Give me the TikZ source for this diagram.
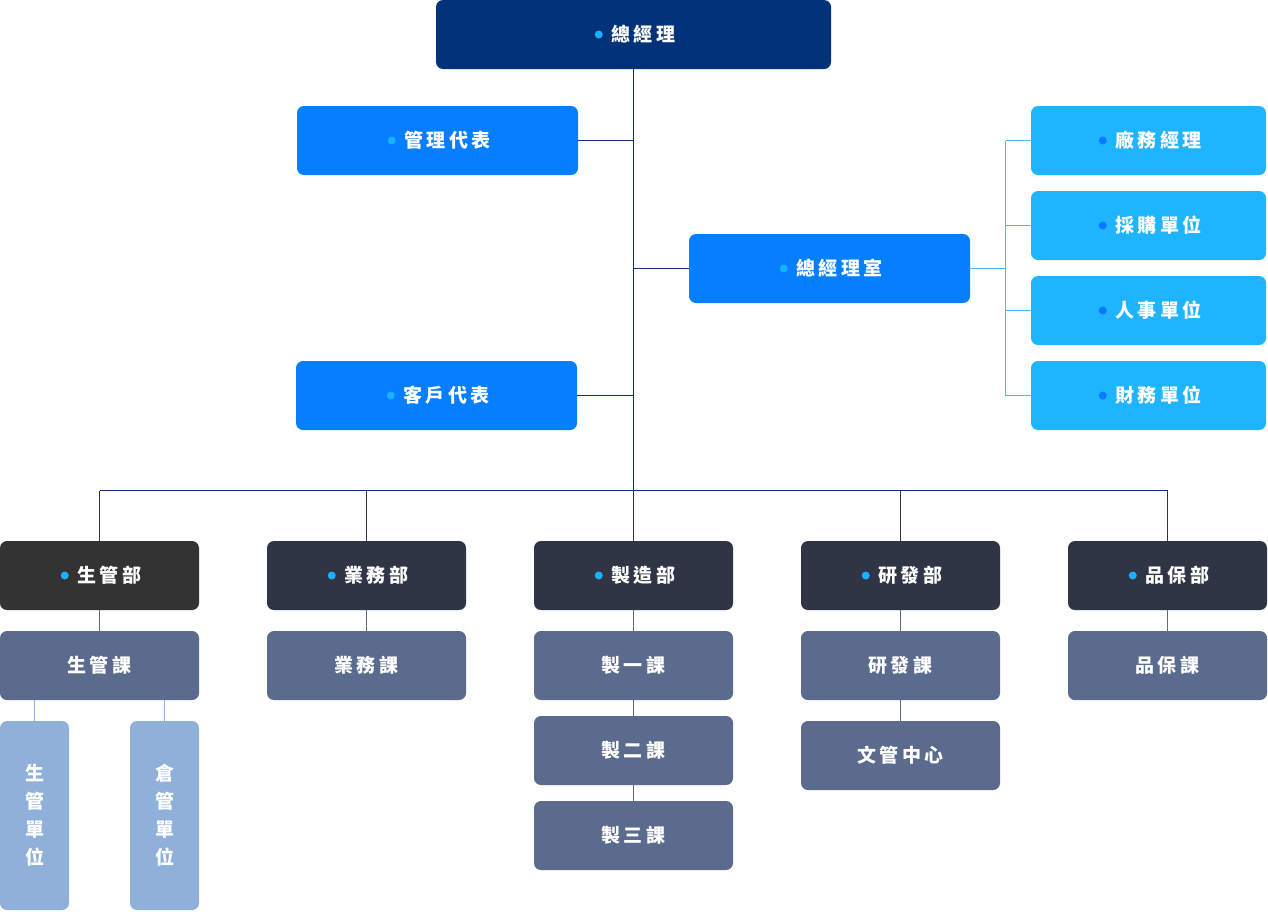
\documentclass[tikz,border=0pt]{standalone}
\usepackage{fontspec}
\newfontfamily\cjk{Noto Sans CJK TC}[LetterSpace=16]
\newfontfamily\cjkv{Noto Sans CJK TC}
\definecolor{navy}{HTML}{02327A}
\definecolor{midblue}{HTML}{057EFF}
\definecolor{skyblue}{HTML}{1FB4FF}
\definecolor{bulletlight}{HTML}{1AB0FF}
\definecolor{bulletdark}{HTML}{0A78FF}
\definecolor{deptgray}{HTML}{2F3544}
\definecolor{deptfirst}{HTML}{333333}
\definecolor{sectgray}{HTML}{5A6B8D}
\definecolor{unitblue}{HTML}{8FB0D8}
\definecolor{linenavy}{HTML}{0D3270}
\definecolor{linesky}{HTML}{4AB8F0}
\tikzset{
  boxbase/.style={rectangle, rounded corners=7pt, inner sep=0pt, minimum height=69pt, text=white},
  topbox/.style={boxbase, fill=navy, minimum width=395pt},
  midbox/.style={boxbase, fill=midblue, minimum width=281pt},
  rightbox/.style={boxbase, fill=skyblue, minimum width=235pt},
  deptbox/.style={boxbase, fill=deptgray, minimum width=199pt},
  sectbox/.style={boxbase, fill=sectgray, minimum width=199pt, font=\cjk\bfseries\fontsize{19}{22}\selectfont},
  unitbox/.style={boxbase, fill=unitblue, minimum width=69pt, minimum height=189pt, align=center, font=\cjkv\bfseries\fontsize{19}{28}\selectfont},
  txt/.style={inner sep=0pt, text=white, font=\cjk\bfseries\fontsize{19}{22}\selectfont},
  navyline/.style={draw=linenavy, line width=1pt},
  skyline/.style={draw=linesky, line width=1pt},
  deptline/.style={draw=deptgray, line width=1pt},
  sectline/.style={draw=sectgray, line width=1pt},
  unitline/.style={draw=unitblue, line width=1pt},
}
% #1 style, #2 name, #3 x, #4 y, #5 text, #6 bullet colour
\newcommand\OrgBox[6]{%
  \node[#1] (#2) at (#3,#4) {};
  \node[txt] (#2t) at ([xshift=10pt]#2.center) {#5};
  \fill[#6] ([xshift=-13pt]#2t.west) circle (4pt);
}
\begin{document}
\begin{tikzpicture}[x=1pt,y=-1pt]
\useasboundingbox (0,0) rectangle (1268,911);
% top
\OrgBox{topbox}{gm}{633.5}{34.5}{總經理}{bulletlight}
\OrgBox{midbox}{mr}{437.5}{140.5}{管理代表}{bulletlight}
\OrgBox{midbox}{gmo}{829.5}{268.5}{總經理室}{bulletlight}
\OrgBox{midbox}{cr}{436.5}{395.5}{客戶代表}{bulletlight}
\OrgBox{rightbox}{ra}{1148.5}{140.5}{廠務經理}{bulletdark}
\OrgBox{rightbox}{rb}{1148.5}{225.5}{採購單位}{bulletdark}
\OrgBox{rightbox}{rc}{1148.5}{310.5}{人事單位}{bulletdark}
\OrgBox{rightbox}{rd}{1148.5}{395.5}{財務單位}{bulletdark}
% departments
\OrgBox{deptbox,fill=deptfirst}{da}{99.5}{575.5}{生管部}{bulletlight}
\OrgBox{deptbox}{db}{366.5}{575.5}{業務部}{bulletlight}
\OrgBox{deptbox}{dc}{633.5}{575.5}{製造部}{bulletlight}
\OrgBox{deptbox}{dd}{900.5}{575.5}{研發部}{bulletlight}
\OrgBox{deptbox}{de}{1167.5}{575.5}{品保部}{bulletlight}
% sections
\node[sectbox] (sa) at (99.5,665.5) {生管課};
\node[sectbox] (sb) at (366.5,665.5) {業務課};
\node[sectbox] (sc1) at (633.5,665.5) {製一課};
\node[sectbox] (sc2) at (633.5,750.5) {製二課};
\node[sectbox] (sc3) at (633.5,835.5) {製三課};
\node[sectbox] (sd1) at (900.5,665.5) {研發課};
\node[sectbox] (sd2) at (900.5,755.5) {文管中心};
\node[sectbox] (se) at (1167.5,665.5) {品保課};
% units
\node[unitbox] (ua) at (34.5,815.5) {生\\管\\單\\位};
\node[unitbox] (ub) at (164.5,815.5) {倉\\管\\單\\位};
% connectors
\coordinate (bus) at (633.5,490.5);
\coordinate (rj) at (1005.5,268.5);
\draw[navyline] (gm.south) -- (bus);
\draw[navyline] (mr.east) -- (mr.east -| gm.south);
\draw[navyline] (cr.east) -- (cr.east -| gm.south);
\draw[navyline] (gmo.west -| gm.south) -- (gmo.west);
\draw[skyline] (gmo.east) -- (rj);
\draw[skyline] (rj |- ra.west) -- (rj |- rd.west);
\foreach \r in {ra,rb,rc,rd} \draw[skyline] (rj |- \r.west) -- (\r.west);
\draw[navyline] (da.north |- bus) -- (de.north |- bus);
\foreach \d in {da,db,dc,dd,de} \draw[deptline] (\d.north |- bus) -- (\d.north);
\draw[sectline] (da.south) -- (sa.north);
\draw[sectline] (db.south) -- (sb.north);
\draw[sectline] (dc.south) -- (sc1.north);
\draw[sectline] (sc1.south) -- (sc2.north);
\draw[sectline] (sc2.south) -- (sc3.north);
\draw[sectline] (dd.south) -- (sd1.north);
\draw[sectline] (sd1.south) -- (sd2.north);
\draw[sectline] (de.south) -- (se.north);
\draw[unitline] (sa.south -| ua.north) -- (ua.north);
\draw[unitline] (sa.south -| ub.north) -- (ub.north);
\end{tikzpicture}
\end{document}
